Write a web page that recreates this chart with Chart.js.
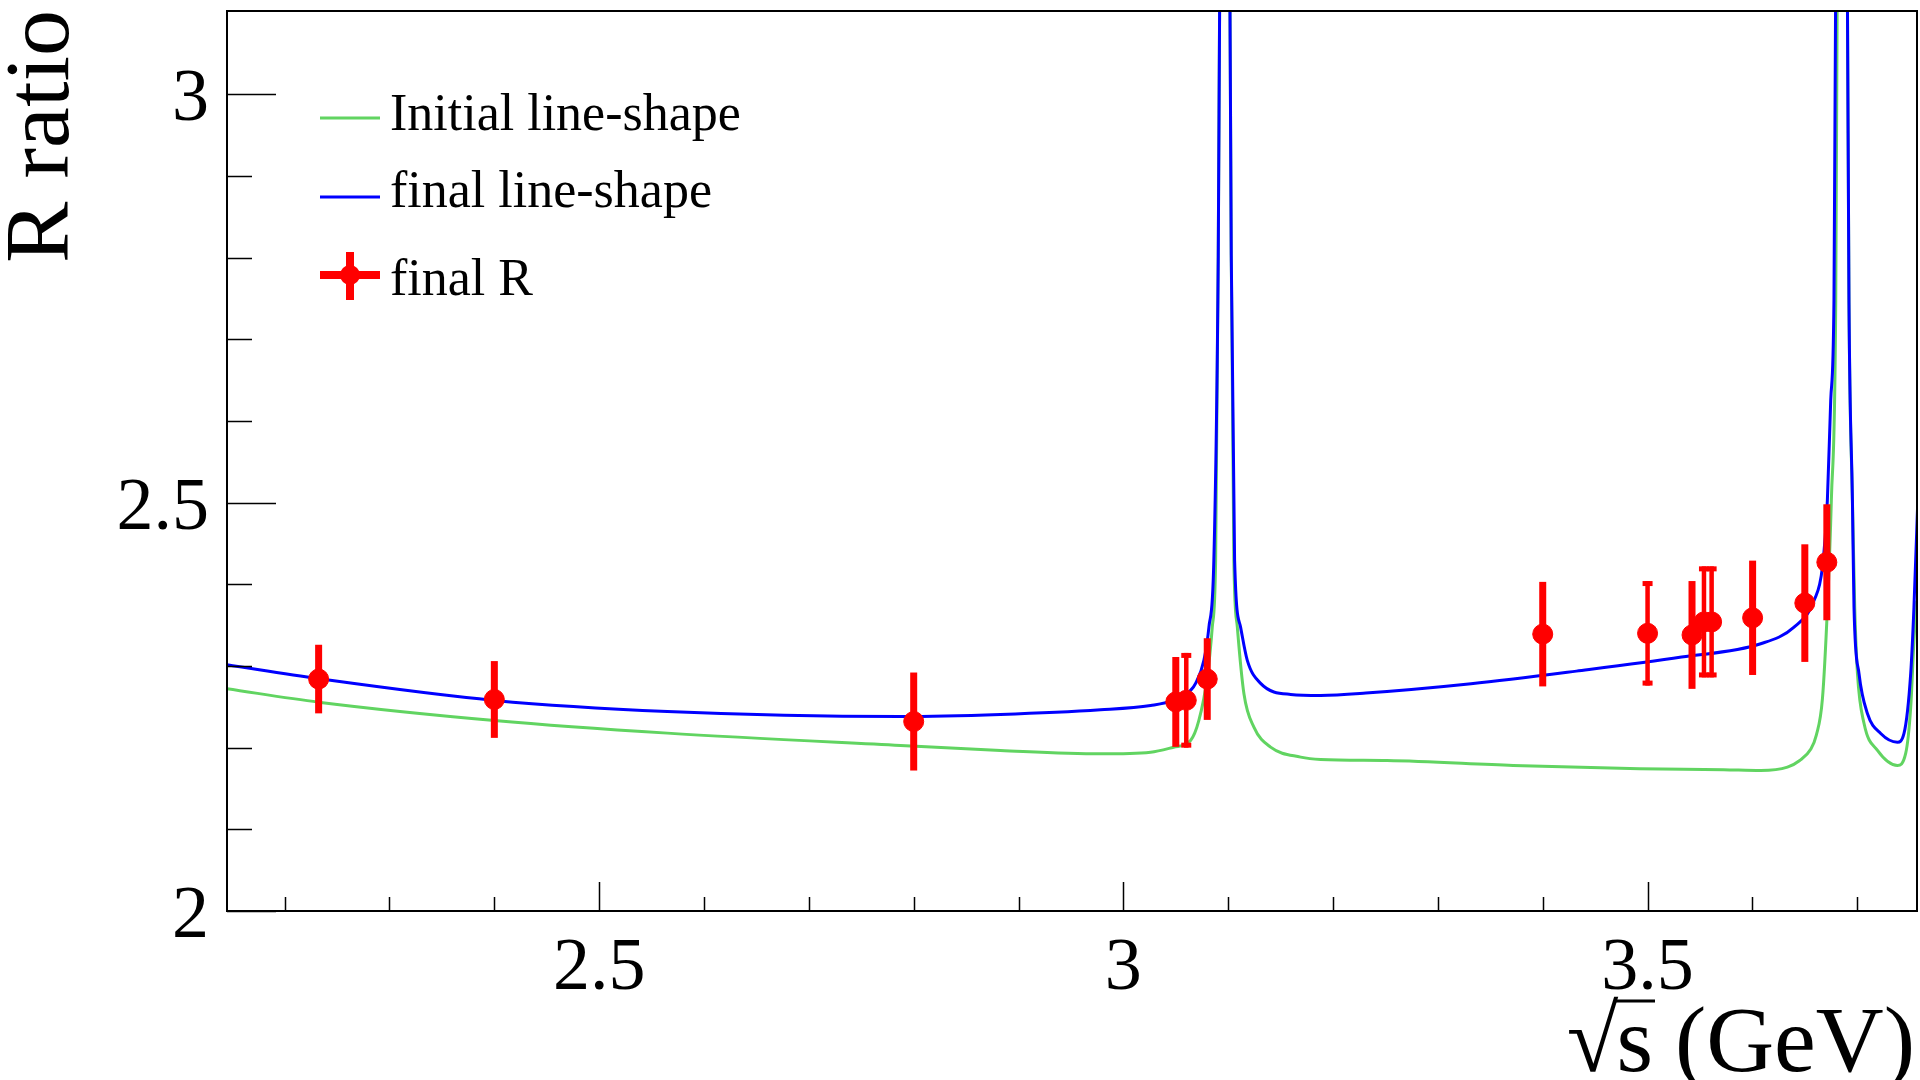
<!DOCTYPE html>
<html>
<head>
<meta charset="utf-8">
<title>R ratio</title>
<script src="https://cdn.jsdelivr.net/npm/chart.js@4.4.1/dist/chart.umd.min.js"></script>
<style>
  html, body { margin: 0; padding: 0; background: #fff; }
  canvas { display: block; }
</style>
</head>
<body>
<canvas id="rChart" width="1920" height="1080"></canvas>
<script>
// measured R values at the scan energies (GeV)
const energies = [2.2324, 2.4, 2.8, 3.05, 3.06, 3.08, 3.4, 3.5, 3.5424, 3.5538, 3.5611, 3.6002, 3.65, 3.671];
const rValues = [2.284, 2.259, 2.232, 2.256, 2.258, 2.284, 2.339, 2.340, 2.338, 2.354, 2.354, 2.359, 2.377, 2.427];
const rErrors = [0.042, 0.047, 0.060, 0.055, 0.058, 0.050, 0.064, 0.064, 0.066, 0.068, 0.068, 0.070, 0.072, 0.071];
// points whose bars are drawn thin with end caps
const cappedEnergies = [3.06, 3.5, 3.5538, 3.5611];

// initial line-shape (green)
const initialE = [2.145, 2.2324, 2.4, 2.565, 2.7874, 2.8828, 2.9782, 3.026, 3.0479, 3.0641, 3.072, 3.08, 3.0848, 3.088, 3.0905, 3.092,
  3.0969, 3.1015, 3.1029, 3.1054, 3.1087, 3.115, 3.1245, 3.1404, 3.1691, 3.1881, 3.2515, 3.3718, 3.4923, 3.5726, 3.6079,
  3.6334, 3.6448, 3.6556, 3.6609, 3.6668, 3.6715, 3.6753, 3.6795, 3.681, 3.686, 3.6905, 3.6921, 3.6954, 3.6976, 3.7002,
  3.7065, 3.7193, 3.7383, 3.7462, 3.751, 3.7541, 3.7567];
const initialR = [2.2721, 2.2557, 2.2333, 2.2178, 2.2027, 2.1966, 2.1925, 2.1945, 2.2006, 2.2088, 2.2333, 2.2863, 2.3476, 2.4293, 2.803, 3.15,
  3.6, 3.15, 2.803, 2.4293, 2.3476, 2.266, 2.2251, 2.2006, 2.1884, 2.1855, 2.1843, 2.1782, 2.1741, 2.173, 2.172,
  2.1761, 2.184, 2.198, 2.215, 2.26, 2.37, 2.5028, 2.7477, 3.15, 3.6, 3.15, 2.7477, 2.5028, 2.3721, 2.2909,
  2.2296, 2.1966, 2.1782, 2.1929, 2.2495, 2.3313, 2.38];

// final line-shape (blue)
const finalE = [2.145, 2.2324, 2.4, 2.565, 2.7874, 2.8828, 2.9782, 3.026, 3.0479, 3.0641, 3.0689, 3.0768, 3.0816, 3.0863, 3.0905, 3.092,
  3.0969, 3.1015, 3.1029, 3.1061, 3.1118, 3.1182, 3.1309, 3.1595, 3.1881, 3.2313, 3.3316, 3.4321, 3.5324, 3.6079,
  3.6397, 3.6588, 3.6668, 3.6715, 3.6747, 3.6778, 3.6795, 3.686, 3.6905, 3.6921, 3.6954, 3.6969, 3.7017, 3.7097,
  3.7224, 3.7383, 3.7446, 3.751, 3.7541, 3.758];
const finalR = [2.3015, 2.2844, 2.2578, 2.2443, 2.2382, 2.2407, 2.2464, 2.2517, 2.2578, 2.2701, 2.2787, 2.3069, 2.3476, 2.4293, 2.803, 3.15,
  3.6, 3.15, 2.803, 2.4293, 2.3476, 2.3069, 2.2787, 2.2652, 2.264, 2.2668, 2.2782, 2.2937, 2.3109, 2.3272,
  2.3476, 2.3803, 2.4211, 2.5028, 2.6252, 2.7477, 3.15, 3.6, 3.15, 2.7477, 2.5028, 2.3721, 2.2905, 2.2419,
  2.2174, 2.2067, 2.2174, 2.2909, 2.3721, 2.5113];

// axis ticks
const xMajorTicks = [2.5, 3, 3.5];
const xMinorTicks = [2.2, 2.3, 2.4, 2.6, 2.7, 2.8, 2.9, 3.1, 3.2, 3.3, 3.4, 3.6, 3.7];
const yMajorTicks = [2, 2.5, 3];
const yMinorTicks = [2.1, 2.2, 2.3, 2.4, 2.6, 2.7, 2.8, 2.9];

const toPoints = (xs, ys) => xs.map((v, i) => ({ x: v, y: ys[i] }));

const SERIF = '"Liberation Serif", "Times New Roman", serif';
const RED = '#ff0000';
const BLUE = '#0000ff';
const GREEN = '#61d461';

// ROOT-style frame, inward ticks, labels, titles, legend and error bars
const rootStyle = {
  id: 'rootStyle',
  afterDatasetsDraw(chart) {
    const { ctx, chartArea: a, scales: { x, y } } = chart;
    ctx.save();
    ctx.beginPath();
    ctx.rect(a.left, a.top, a.right - a.left, a.bottom - a.top);
    ctx.clip();
    ctx.fillStyle = RED;
    energies.forEach((e, i) => {
      const px = x.getPixelForValue(e);
      const top = y.getPixelForValue(rValues[i] + rErrors[i]);
      const bot = y.getPixelForValue(rValues[i] - rErrors[i]);
      const capped = cappedEnergies.includes(e);
      const w = capped ? 4.5 : 7;
      ctx.fillRect(px - w / 2, top, w, bot - top);
      if (capped) {
        ctx.fillRect(px - 5, top, 10, 5);
        ctx.fillRect(px - 5, bot - 5, 10, 5);
      }
    });
    ctx.restore();
  },
  afterDraw(chart) {
    const { ctx, chartArea: a, scales: { x, y } } = chart;
    ctx.save();
    ctx.strokeStyle = '#000';
    ctx.lineWidth = 2;
    ctx.strokeRect(a.left, a.top, a.right - a.left, a.bottom - a.top);

    // x ticks point up into the frame, y ticks point right
    ctx.lineWidth = 1.5;
    ctx.beginPath();
    xMajorTicks.forEach(v => {
      const px = Math.round(x.getPixelForValue(v)) + 0.5;
      ctx.moveTo(px, a.bottom); ctx.lineTo(px, a.bottom - 29);
    });
    xMinorTicks.forEach(v => {
      const px = Math.round(x.getPixelForValue(v)) + 0.5;
      ctx.moveTo(px, a.bottom); ctx.lineTo(px, a.bottom - 14);
    });
    yMajorTicks.forEach(v => {
      const py = Math.round(y.getPixelForValue(v)) + 0.5;
      ctx.moveTo(a.left, py); ctx.lineTo(a.left + 49, py);
    });
    yMinorTicks.forEach(v => {
      const py = Math.round(y.getPixelForValue(v)) + 0.5;
      ctx.moveTo(a.left, py); ctx.lineTo(a.left + 25, py);
    });
    ctx.stroke();

    // tick labels
    ctx.fillStyle = '#000';
    ctx.font = '74px ' + SERIF;
    ctx.textBaseline = 'alphabetic';
    ctx.textAlign = 'center';
    xMajorTicks.forEach(v => ctx.fillText(String(v), x.getPixelForValue(v), a.bottom + 78));
    ctx.textAlign = 'right';
    yMajorTicks.forEach(v => ctx.fillText(String(v), a.left - 18, y.getPixelForValue(v) + 26));

    // y title, right-aligned to the top of the frame
    ctx.save();
    ctx.font = '92px ' + SERIF;
    ctx.translate(68, a.top - 1);
    ctx.rotate(-Math.PI / 2);
    ctx.textAlign = 'right';
    ctx.fillText('R ratio', 0, 0);
    ctx.restore();

    // x title: √s (GeV), right-aligned to the end of the axis
    ctx.font = '94px ' + SERIF;
    ctx.textAlign = 'right';
    const base = 1071;
    ctx.fillText('(GeV)', a.right - 2, base);
    const sRight = 1653;
    ctx.fillText('s', sRight, base);
    const sWidth = ctx.measureText('s').width;
    ctx.fillText('√', sRight - sWidth + 2, base);
    ctx.lineWidth = 3;
    ctx.beginPath();
    ctx.moveTo(sRight - sWidth - 2, 1001);
    ctx.lineTo(sRight + 2, 1001);
    ctx.stroke();

    // legend
    const lx0 = 320, lx1 = 380, tx = 390;
    ctx.lineWidth = 3;
    ctx.strokeStyle = GREEN;
    ctx.beginPath(); ctx.moveTo(lx0, 118); ctx.lineTo(lx1, 118); ctx.stroke();
    ctx.strokeStyle = BLUE;
    ctx.beginPath(); ctx.moveTo(lx0, 197); ctx.lineTo(lx1, 197); ctx.stroke();
    ctx.fillStyle = RED;
    ctx.fillRect(lx0, 271, lx1 - lx0, 8);
    ctx.fillRect(346, 252, 8, 48);
    ctx.beginPath(); ctx.arc(350, 275, 10, 0, Math.PI * 2); ctx.fill();

    ctx.fillStyle = '#000';
    ctx.font = '52px ' + SERIF;
    ctx.textAlign = 'left';
    ctx.fillText('Initial line-shape', tx, 130);
    ctx.fillText('final line-shape', tx, 207);
    ctx.fillText('final R', tx, 295);
    ctx.restore();
  }
};

new Chart(document.getElementById('rChart'), {
  type: 'scatter',
  data: {
    datasets: [
      {
        label: 'final R',
        data: toPoints(energies, rValues),
        backgroundColor: RED,
        borderColor: RED,
        pointRadius: 10,
        pointHoverRadius: 10,
        showLine: false,
      },
      {
        label: 'final line-shape',
        data: toPoints(finalE, finalR),
        showLine: true,
        borderColor: BLUE,
        borderWidth: 3,
        pointRadius: 0,
        cubicInterpolationMode: 'monotone',
      },
      {
        label: 'Initial line-shape',
        data: toPoints(initialE, initialR),
        showLine: true,
        borderColor: GREEN,
        borderWidth: 3,
        pointRadius: 0,
        cubicInterpolationMode: 'monotone',
      },
    ],
  },
  options: {
    responsive: false,
    animation: false,
    events: [],
    layout: { autoPadding: false, padding: { top: 11, right: 3, left: 0, bottom: 0 } },
    plugins: {
      legend: { display: false },
      tooltip: { enabled: false },
    },
    scales: {
      x: {
        type: 'linear',
        min: 2.145,
        max: 3.757,
        ticks: { display: false },
        grid: { display: false },
        border: { display: false },
        afterFit: s => { s.height = 169; },
      },
      y: {
        type: 'linear',
        min: 2,
        max: 3.102,
        ticks: { display: false },
        grid: { display: false },
        border: { display: false },
        afterFit: s => { s.width = 227; },
      },
    },
  },
  plugins: [rootStyle],
});
</script>
</body>
</html>
